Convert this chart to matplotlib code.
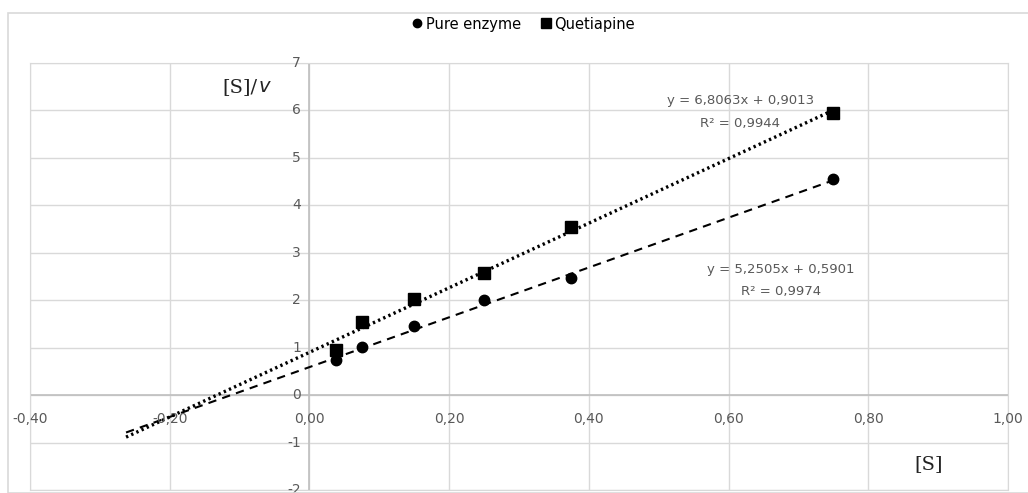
import numpy as np
import matplotlib
matplotlib.use("Agg")
import matplotlib.pyplot as plt
from matplotlib.patches import Rectangle
from matplotlib.lines import Line2D

plt.rcParams['font.family'] = ['Liberation Sans Narrow', 'DejaVu Sans']

# data
s = [0.0375, 0.075, 0.15, 0.25, 0.375, 0.75]
pure_enzyme = [0.75, 1.02, 1.45, 2.01, 2.47, 4.56]
quetiapine = [0.96, 1.55, 2.03, 2.58, 3.55, 5.95]

# trendline coefficients as printed on the chart
fit_pure = (5.2505, 0.5901, 0.9974)
fit_quet = (6.8063, 0.9013, 0.9944)
backcast = 0.3

xticks = [-0.4, -0.2, 0.0, 0.2, 0.4, 0.6, 0.8, 1.0]
yticks = [-2, -1, 0, 1, 2, 3, 4, 5, 6, 7]

W, H = 1028, 493
fig = plt.figure(figsize=(W / 100, H / 100), dpi=100)
fig.patches.append(Rectangle((8 / W, 0), 1.0, 1 - 13 / H, transform=fig.transFigure,
                             fill=False, edgecolor='#d9d9d9', linewidth=1.2))

ax = fig.add_axes([30 / W, 1 - 490 / H, 978 / W, 427 / H])
ax.set_xlim(-0.4, 1.0)
ax.set_ylim(-2, 7)

grid = '#d9d9d9'
for v in xticks:
    ax.axvline(v, color=grid, lw=1, zorder=0)
for v in yticks:
    ax.axhline(v, color=grid, lw=1, zorder=0)
ax.axvline(0, color='#bfbfbf', lw=1.2, zorder=1)
ax.axhline(0, color='#bfbfbf', lw=1.2, zorder=1)
for sp in ax.spines.values():
    sp.set_color(grid)
ax.set_xticks([])
ax.set_yticks([])

tick_col = '#595959'
for v in xticks:
    ax.text(v, -0.5, f"{v:.2f}".replace('.', ','), ha='center', va='center',
            fontsize=10, color=tick_col)
for v in yticks:
    ax.text(-0.012, v, f"{v}", ha='right', va='center', fontsize=10, color=tick_col)

# trendlines
x0 = s[0] - backcast
xx = np.array([x0, s[-1]])
ax.plot(xx, fit_pure[0] * xx + fit_pure[1], color='black', lw=1.5,
        dashes=(4, 3), zorder=2)
ax.plot(xx, fit_quet[0] * xx + fit_quet[1], color='black', lw=2.4,
        dashes=(0.7, 1.0), dash_capstyle='butt', zorder=2)

ax.plot(s, pure_enzyme, 'o', color='black', ms=7.5, zorder=3)
ax.plot(s, quetiapine, 's', color='black', ms=8.5, zorder=3)

def eq(a, b):
    return f"y = {a:.4f}x + {b:.4f}".replace('.', ',')

ax.text(0.617, 6.2, eq(fit_quet[0], fit_quet[1]), ha='center', va='center',
        fontsize=9.5, color=tick_col)
ax.text(0.617, 5.72, "R² = " + f"{fit_quet[2]:.4f}".replace('.', ','),
        ha='center', va='center', fontsize=9.5, color=tick_col)
ax.text(0.675, 2.65, eq(fit_pure[0], fit_pure[1]), ha='center', va='center',
        fontsize=9.5, color=tick_col)
ax.text(0.675, 2.18, "R² = " + f"{fit_pure[2]:.4f}".replace('.', ','),
        ha='center', va='center', fontsize=9.5, color=tick_col)

ax.text(-0.074, 6.5, "[S]/", ha='right', va='center', fontsize=14,
        family='DejaVu Serif', color='#222222')
ax.text(-0.074, 6.5, "$v$", ha='left', va='center', fontsize=14,
        family='DejaVu Serif', color='#222222')
ax.text(0.886, -1.45, "[S]", ha='center', va='center', fontsize=14,
        family='DejaVu Serif', color='#222222')

handles = [Line2D([], [], marker='o', ls='none', color='black', ms=6),
           Line2D([], [], marker='s', ls='none', color='black', ms=7)]
fig.legend(handles, ['Pure enzyme', 'Quetiapine'], loc='center',
           bbox_to_anchor=(0.508, 1 - 24 / H), ncol=2, frameon=False,
           fontsize=10.5, handletextpad=0.1, columnspacing=1.2,
           handlelength=1.0)

fig.savefig('out.png', dpi=100)
